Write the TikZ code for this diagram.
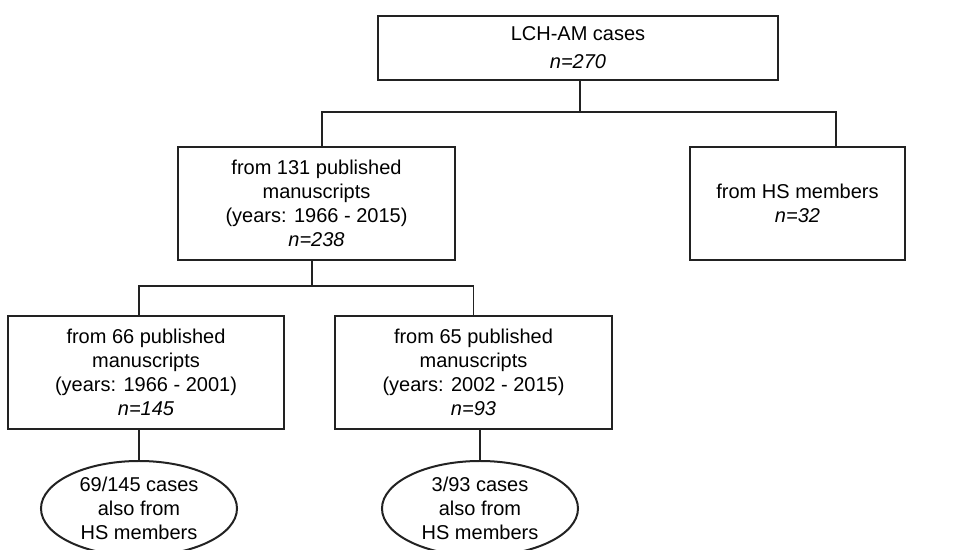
\documentclass[tikz,border=0pt]{standalone}
\usepackage{fontspec}
\setmainfont{Liberation Sans}
\usetikzlibrary{positioning,shapes.geometric}
\definecolor{boxline}{RGB}{34, 34, 34}
\tikzset{
  flowbox/.style={
    draw=boxline,
    line width=1pt,
    align=center,
    inner sep=0pt,
    font=\normalsize
  },
  subset/.style={
    ellipse,
    draw=boxline,
    line width=1pt,
    align=center,
    inner sep=0pt,
    minimum width=98pt,
    minimum height=47.5pt
  },
  connect/.style={
    draw=boxline,
    line width=0.8pt
  }
}

\begin{document}
\begin{tikzpicture}
\useasboundingbox (0,0) rectangle (483pt,-275pt);
\node[flowbox,minimum width=200pt,minimum height=32pt] (c0) at (289pt,-24pt)
  {LCH-AM cases\\[2pt]\textit{n=270}};
\node[flowbox,minimum width=138.5pt,minimum height=56.5pt,below=32.5pt of c0.south,xshift=-130.75pt] (c1)
  {from 131 published\\manuscripts\\(years: 1966 - 2015)\\\textit{n=238}};
\node[flowbox,minimum width=107.5pt,minimum height=56.5pt,below=32.5pt of c0.south,xshift=+109.75pt] (c2)
  {from HS members\\\textit{n=32}};
\node[flowbox,minimum width=138pt,minimum height=56.5pt,below=27pt of c1.south,xshift=-85.25pt] (c3)
  {from 66 published\\manuscripts\\(years: 1966 - 2001)\\\textit{n=145}};
\node[flowbox,minimum width=138.5pt,minimum height=56.5pt,below=27pt of c1.south,xshift=+78.50pt] (c4)
  {from 65 published\\manuscripts\\(years: 2002 - 2015)\\\textit{n=93}};
\node[subset,below=15pt of c3.south,xshift=-3.50pt] (e3) {69/145 cases\\also from\\HS members};
\node[subset,below=15pt of c4.south,xshift=+3.25pt] (e4) {3/93 cases\\also from\\HS members};

\coordinate (j0) at (290pt,-56pt);
\coordinate (j1) at (156pt,-143pt);
\draw[connect] (c0.south -| j0) -- (j0);
\draw[connect] ([xshift=2.75pt]c1.north) |- (j0) -| ([xshift=19.25pt]c2.north);
\draw[connect] (c1.south -| j1) -- (j1);
\draw[connect] (e3.north |- c3.north) |- (j1) -| (c4.north);
\draw[connect] (e3.north |- c3.south) -- (e3.north);
\draw[connect] (c4.south -| e4.north) -- (e4.north);
\end{tikzpicture}
\end{document}
